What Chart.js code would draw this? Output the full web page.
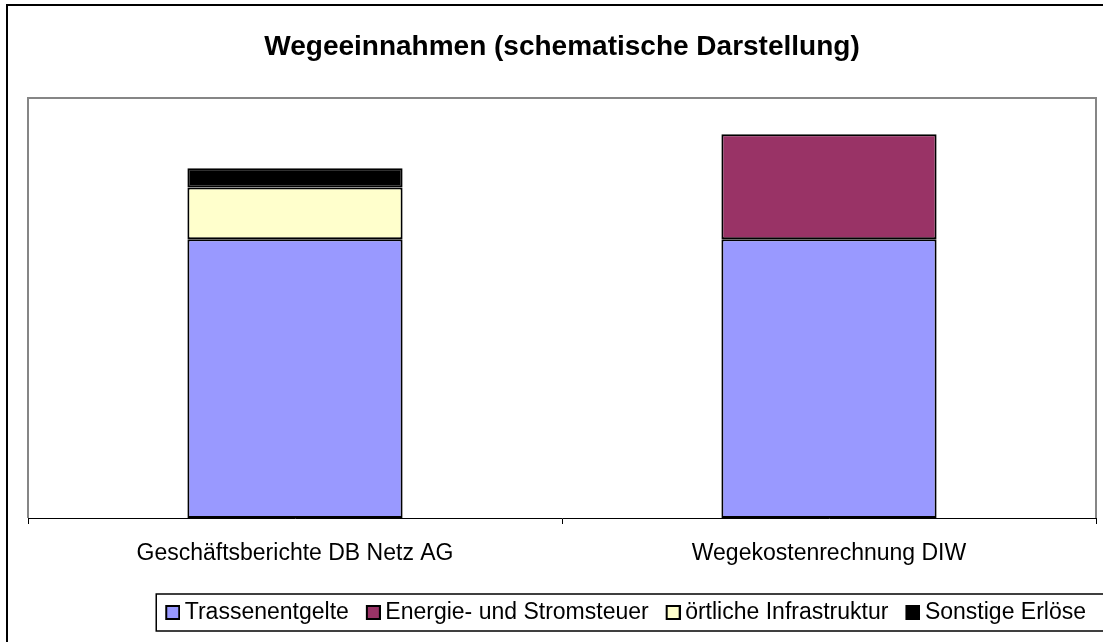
<!DOCTYPE html>
<html>
<head>
<meta charset="utf-8">
<script src="https://cdn.jsdelivr.net/npm/chart.js@4.4.1/dist/chart.umd.min.js"></script>
<style>
  body { margin: 0; background: #fff; }
  canvas { display: block; }
</style>
</head>
<body>
<canvas id="chart" width="1103" height="642"></canvas>
<script>
// data (schematic, arbitrary units, axis 0..100)
var categories = ['Geschäftsberichte DB Netz AG', 'Wegekostenrechnung DIW'];
var trassenentgelte = [66.4, 66.4];
var energieStromsteuer = [null, 25.0];
var oertlicheInfrastruktur = [12.3, null];
var sonstigeErloese = [4.6, null];

var FONT = '"Liberation Sans", Arial, sans-serif';

// legend swatch: square box sitting close to its text (excel style)
function makeSwatch(color) {
    var c = document.createElement('canvas');
    c.width = 29;
    c.height = 15;
    var g = c.getContext('2d');
    g.fillStyle = color;
    g.fillRect(14, 0, 15, 15);
    g.strokeStyle = '#000';
    g.lineWidth = 2;
    g.strokeRect(15, 1, 13, 13);
    return c;
}

// outer border, plot frame and legend frame
var frames = {
    id: 'frames',
    beforeDatasetsDraw: (chart) => {
        var ctx = chart.ctx, a = chart.chartArea;
        ctx.save();
        ctx.strokeStyle = '#868686';
        ctx.lineWidth = 2;
        ctx.beginPath();
        ctx.moveTo(a.left, a.bottom);
        ctx.lineTo(a.left, a.top);
        ctx.lineTo(a.right, a.top);
        ctx.lineTo(a.right, a.bottom);
        ctx.stroke();
        ctx.restore();
    },
    afterDraw: (chart) => {
        var ctx = chart.ctx;
        ctx.save();
        ctx.strokeStyle = '#000';
        ctx.lineWidth = 2;
        ctx.strokeRect(7, 5, chart.width + 10, chart.height + 10);
        var hb = chart.legend.legendHitBoxes[0];
        var mid = hb.top + hb.height / 2;
        ctx.lineWidth = 1.5;
        ctx.strokeRect(hb.left - 2, mid - 18.5, chart.width, 37);
        ctx.restore();
    }
};

var ctx = document.getElementById('chart').getContext('2d');
new Chart(ctx, {
    type: 'bar',
    data: {
        labels: categories,
        datasets: [
            { label: 'Trassenentgelte', data: trassenentgelte, backgroundColor: '#9999FF' },
            { label: 'Energie- und Stromsteuer', data: energieStromsteuer, backgroundColor: '#993366' },
            { label: 'örtliche Infrastruktur', data: oertlicheInfrastruktur, backgroundColor: '#FFFFCC' },
            { label: 'Sonstige Erlöse', data: sonstigeErloese, backgroundColor: '#000000' }
        ]
    },
    options: {
        responsive: false,
        animation: false,
        layout: { padding: { top: 5, left: 28, right: 7, bottom: 8 } },
        datasets: {
            bar: { borderColor: '#000', borderWidth: 2, borderSkipped: false, categoryPercentage: 1, barPercentage: 0.403 }
        },
        plugins: {
            title: {
                display: true,
                text: 'Wegeeinnahmen (schematische Darstellung)',
                color: '#000',
                font: { family: FONT, size: 28, weight: 'bold' },
                padding: { top: 25, bottom: 34.5 }
            },
            legend: {
                position: 'bottom',
                align: 'end',
                labels: {
                    color: '#000',
                    font: { family: FONT, size: 23 },
                    boxWidth: 15,
                    boxHeight: 15,
                    padding: 10,
                    usePointStyle: true,
                    generateLabels: (chart) => {
                        var items = Chart.defaults.plugins.legend.labels.generateLabels(chart);
                        items.forEach((it) => { it.pointStyle = makeSwatch(it.fillStyle); });
                        return items;
                    }
                }
            },
            tooltip: { enabled: false }
        },
        scales: {
            x: {
                stacked: true,
                grid: { drawOnChartArea: false, drawTicks: true, tickLength: 6, color: '#000', tickColor: '#000', offset: true },
                border: { display: true, color: '#000', width: 1 },
                ticks: { color: '#000', font: { family: FONT, size: 23 }, padding: 16, maxRotation: 0 },
                afterFit: (scale) => { scale.height = 73; }
            },
            y: { stacked: true, display: false, min: 0, max: 100 }
        }
    },
    plugins: [frames]
});
</script>
</body>
</html>
